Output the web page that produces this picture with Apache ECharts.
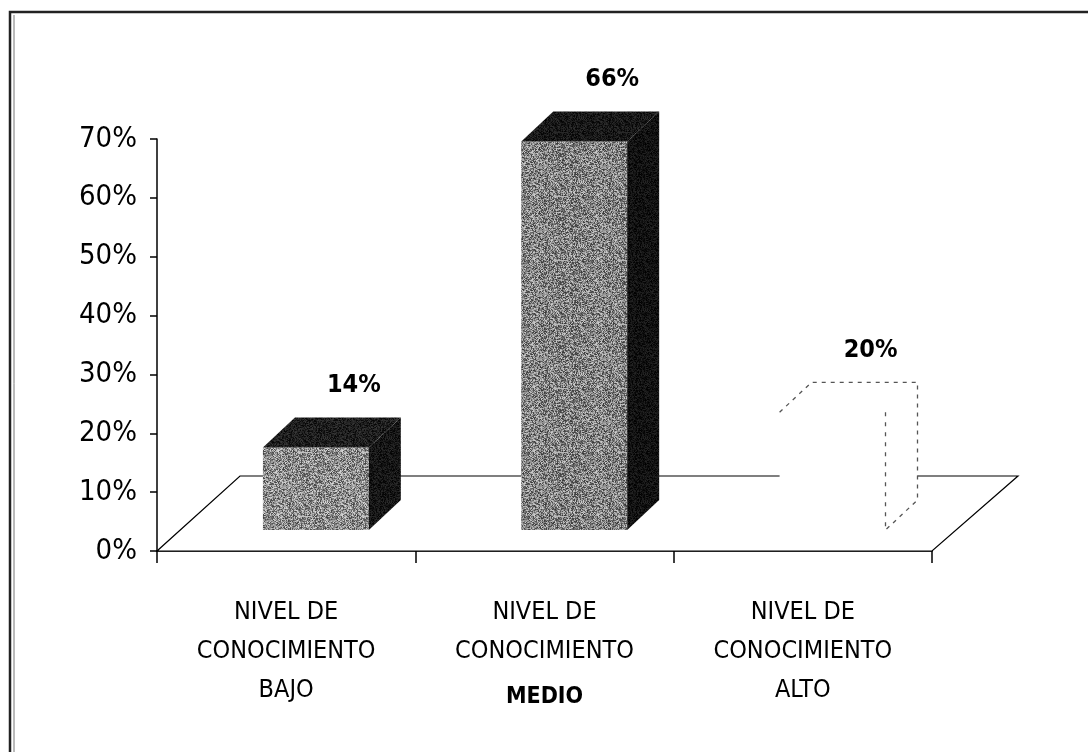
<!DOCTYPE html>
<html><head><meta charset="utf-8">
<style>html,body{margin:0;padding:0;background:#fff}#c{width:1088px;height:752px}</style>
<script src="https://cdn.jsdelivr.net/npm/echarts@6/dist/echarts.min.js"></script>
</head><body><div id="c"></div>
<script>
const categories = ['NIVEL DE\nCONOCIMIENTO\nBAJO', 'NIVEL DE\nCONOCIMIENTO\nMEDIO', 'NIVEL DE\nCONOCIMIENTO\nALTO'];
const values = [14, 66, 20];
const yTicks = [0, 10, 20, 30, 40, 50, 60, 70];

const FONT = "'Liberation Sans Narrow', 'DejaVu Sans Condensed', 'Open Sans', sans-serif";

function grain(baseLight, spread, size) {
  const c = document.createElement('canvas');
  c.width = size; c.height = size;
  const g = c.getContext('2d');
  const img = g.createImageData(size, size);
  let h = 12345;
  for (let p = 0; p < size * size; p++) {
    h = (h * 1103515245 + 12345) & 0x7fffffff;
    const n = ((h >> 8) & 255) / 255 - 0.5;
    const l = Math.max(0, Math.min(255, baseLight + n * spread));
    img.data[p * 4] = img.data[p * 4 + 1] = img.data[p * 4 + 2] = l;
    img.data[p * 4 + 3] = 255;
  }
  g.putImageData(img, 0, 0);
  return {image: c, repeat: 'repeat'};
}

const faceStyles = [
  {front: grain(140, 150, 64), side: grain(22, 40, 64), top: grain(30, 50, 64), dashed: false},
  {front: grain(130, 150, 64), side: grain(18, 36, 64), top: grain(24, 44, 64), dashed: false},
  {front: '#ffffff', side: '#ffffff', top: '#ffffff', dashed: true}
];
const chart = echarts.init(document.getElementById('c'), null, {renderer: 'canvas'});
const DX = 32, DY = -30, LIFT = 21;

function renderBar(params, api) {
  const i = api.value(0), v = api.value(1);
  const base = api.coord([i, 0]);
  const top = api.coord([i, v]);
  const band = api.size([1, 0])[0];
  const w = band * 0.41;
  const cx = base[0] + band * 0.115;
  const x0 = cx - w / 2, x1 = cx + w / 2;
  const yb = base[1] - LIFT, yt = top[1] - LIFT;
  const s = faceStyles[i];
  const children = [
    {type: 'rect', shape: {x: x0, y: yt, width: w, height: yb - yt}, style: {fill: s.front}},
    {type: 'polygon', shape: {points: [[x1, yt], [x1 + DX, yt + DY], [x1 + DX, yb + DY], [x1, yb]]}, style: {fill: s.side}},
    {type: 'polygon', shape: {points: [[x0, yt], [x0 + DX, yt + DY], [x1 + DX, yt + DY], [x1, yt]]}, style: {fill: s.top}}
  ];
  if (s.dashed) {
    children.push({type: 'polyline', shape: {points: [[x0, yt], [x0 + DX, yt + DY], [x1 + DX, yt + DY], [x1 + DX, yb + DY], [x1, yb]]},
      style: {stroke: '#555', lineWidth: 1.3, lineDash: [4, 5], fill: null}});
    children.push({type: 'line', shape: {x1: x1, y1: yt, x2: x1, y2: yb},
      style: {stroke: '#555', lineWidth: 1.3, lineDash: [4, 6]}});
  }
  children.push({type: 'text', style: {text: v + '%', x: cx + DX / 2 + 22, y: yt + DY - 32,
    align: 'center', verticalAlign: 'middle', fill: '#000', font: "bold 25px " + FONT}});
  return {type: 'group', children: children};
}

function renderFloor(params, api) {
  const cs = params.coordSys;
  const yb = cs.y + cs.height;
  return {type: 'polygon', shape: {points: [[cs.x, yb], [cs.x + cs.width, yb], [cs.x + cs.width + 86, yb - 75], [cs.x + 83, yb - 75]]},
    style: {fill: '#fff', stroke: '#000', lineWidth: 1.2}};
}

chart.setOption({
  animation: false,
  backgroundColor: '#fff',
  graphic: [
    {type: 'rect', shape: {x: 10, y: 12, width: 1200, height: 900}, style: {fill: null, stroke: '#222', lineWidth: 2.5}, z: 100},
    {type: 'line', shape: {x1: 14, y1: 15, x2: 14, y2: 752}, style: {stroke: '#777', lineWidth: 1}, z: 100}
  ],
  grid: {left: 157, right: 156, top: 139, bottom: 201},
  xAxis: {
    type: 'category', data: categories, boundaryGap: true,
    axisLine: {lineStyle: {color: '#000', width: 1.5}},
    axisTick: {show: true, interval: 0, length: 12, lineStyle: {color: '#000', width: 1.5}},
    axisLabel: {
      interval: 0, hideOverlap: false,
      margin: 42, color: '#000', fontFamily: FONT, fontSize: 25, lineHeight: 39,
      formatter: function (val, idx) {
        const parts = val.split('\n');
        return parts.map((p, k) => (k === 2 && idx === 1) ? '{b|' + p + '}' : '{a|' + p + '}').join('\n');
      },
      rich: {
        a: {fontFamily: FONT, fontSize: 25, lineHeight: 39, color: '#000'},
        b: {fontFamily: FONT, fontSize: 23, fontWeight: 'bold', lineHeight: 52, color: '#000'}
      }
    },
    splitLine: {show: false}
  },
  yAxis: {
    type: 'value', min: yTicks[0], max: yTicks[yTicks.length - 1], interval: 10,
    axisLine: {show: true, lineStyle: {color: '#000', width: 1.5}},
    axisTick: {show: true, length: 7, lineStyle: {color: '#000', width: 1.5}},
    axisLabel: {margin: 20, color: '#000', fontFamily: FONT, fontSize: 29, formatter: '{value}%'},
    splitLine: {show: false}
  },
  series: [
    {type: 'custom', renderItem: renderFloor, data: [[0, 0]], z: 1, silent: true},
    {type: 'custom', renderItem: renderBar, data: values.map((v, i) => [i, v]), z: 5, silent: true}
  ]
});
</script></body></html>
